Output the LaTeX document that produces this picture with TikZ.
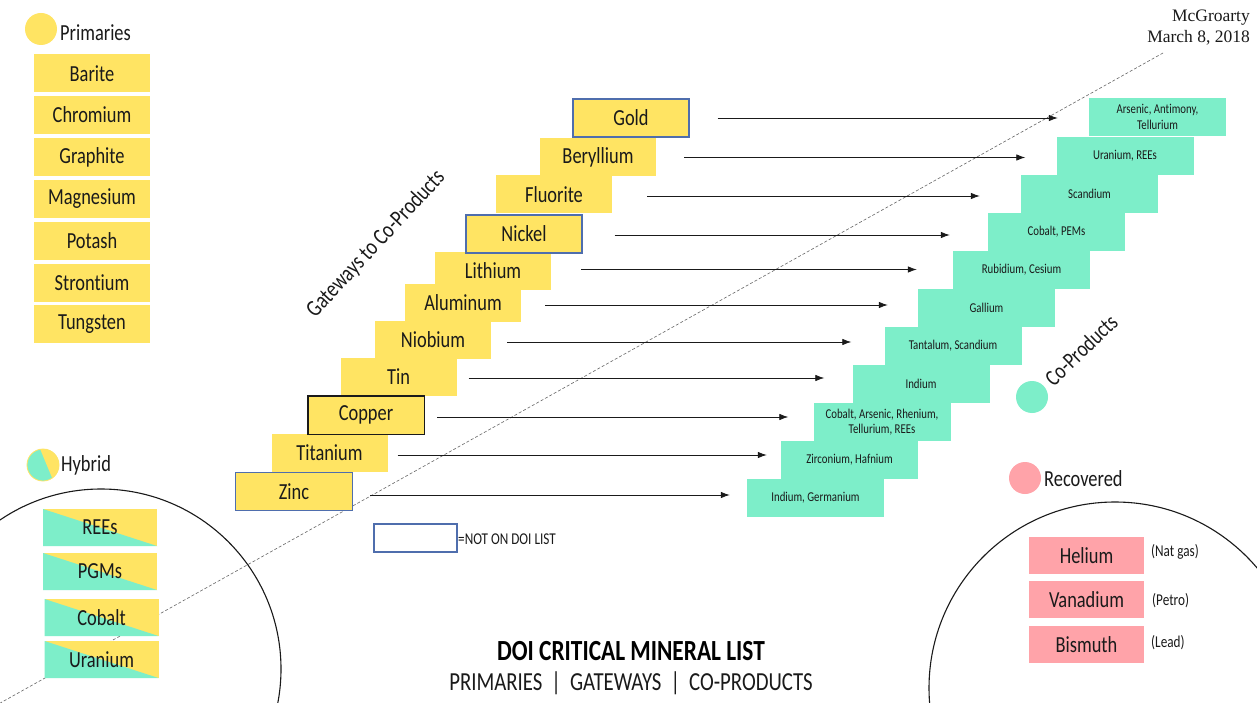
\documentclass[tikz,border=0pt]{standalone}
\usepackage{fontspec}
\setmainfont[FakeStretch=0.8, Ligatures={TeX,NoCommon}]{Carlito}
\newfontfamily\timesf{Liberation Serif}
\usetikzlibrary{arrows.meta}
\definecolor{yel}{HTML}{FFE463}
\definecolor{tealc}{HTML}{7DEEC9}
\definecolor{pinkc}{HTML}{FFA3A9}
\definecolor{blueb}{HTML}{4F6EAD}
\definecolor{ink}{HTML}{1A1A1A}
\tikzset{
  big/.style={font=\fontsize{23}{25}\selectfont},
  ybox/.style={big, fill=yel, minimum width=116pt, minimum height=38pt, inner sep=0pt, text=ink},
  nb/.style={draw=blueb, line width=1.1pt},
  cb/.style={draw=ink, line width=1.4pt},
  tbox/.style={fill=tealc, minimum width=137pt, minimum height=38pt, inner sep=0pt, text=ink,
    font=\fontsize{13.5}{15.5}\selectfont, align=center},
  pbox/.style={big, fill=pinkc, minimum width=115pt, minimum height=37pt, inner sep=0pt, text=ink},
  hbox/.style={big, fill=yel, minimum width=114pt, minimum height=37pt, inner sep=0pt, text=ink,
    path picture={\fill[tealc] (path picture bounding box.north west) -- (path picture bounding box.south east) -- (path picture bounding box.south west) -- cycle;}},
  arr/.style={-{Latex[length=9pt,width=6.5pt]}, line width=0.8pt, draw=ink},
  lbl/.style={big, text=ink, inner sep=0pt},
  note/.style={font=\fontsize{16.5}{18}\selectfont, text=ink, inner sep=0pt},
  dot/.style={circle, minimum size=32pt, inner sep=0pt},
  guide/.style={densely dashed, draw=gray!80!black, line width=0.6pt},
  ring/.style={draw=ink, line width=1.1pt},
}
\begin{document}
\begin{tikzpicture}[x=1pt,y=-1pt]
\useasboundingbox (0,0) rectangle (1257,703);
\fill[white] (0,0) rectangle (1257,703);
% dashed guide line
\coordinate (dTop) at (1163,53);
\coordinate (dBot) at (-6,706.5);
\draw[guide] (dTop) -- (dBot);
% rings
\begin{scope}
\clip (0,0) rectangle (1257,703);
\draw[ring] (101,669) circle (180);
\draw[ring] (1115,688) circle (186);
\end{scope}

% Primaries
\node[dot, fill=yel] (pdot) at (41,29) {};
\node[lbl, anchor=west] (plab) at (60,33) {Primaries};
\node[ybox] (p1) at (92,73.5) {Barite};
\node[ybox] (p2) at (92,115) {Chromium};
\node[ybox] (p3) at (92,157) {Graphite};
\node[ybox] (p4) at (92,199) {Magnesium};
\node[ybox] (p5) at (92,241) {Potash};
\node[ybox] (p6) at (92,283) {Strontium};
\node[ybox] (p7) at (92,324) {Tungsten};

% Hybrid
\node[dot, fill=tealc, draw=yel, line width=0.8pt,
  path picture={\fill[yel] ([shift={(-2.8pt,15.8pt)}]path picture bounding box.center) -- ([shift={(9.2pt,-13.1pt)}]path picture bounding box.center) -- ([shift={(20pt,-20pt)}]path picture bounding box.center) -- ([shift={(20pt,20pt)}]path picture bounding box.center) -- cycle;}] (hdot) at (43,465) {};
\node[lbl, anchor=west] (hlab) at (61,465) {Hybrid};
\node[hbox] (h1) at (100,527.5) {REEs};
\node[hbox] (h2) at (100,571.5) {PGMs};
\node[hbox] (h3) at (101.5,617.5) {Cobalt};
\node[hbox] (h4) at (101.5,659.5) {Uranium};

% Gateways
\node[lbl, rotate=47, font=\fontsize{23.5}{25}\selectfont] (gwlab) at (376,244) {Gateways to Co-Products};
\node[ybox] (zinc) at (294,491.5) {Zinc};
\node[ybox] (titan) at (329.5,453) {Titanium};
\node[ybox] (copper) at (366,415) {Copper};
\node[ybox] (tin) at (398.5,376.5) {Tin};
\node[ybox] (niob) at (433,340) {Niobium};
\node[ybox] (alum) at (463,302.5) {Aluminum};
\node[ybox] (lith) at (493,270.5) {Lithium};
\node[ybox] (fluor) at (554,194.5) {Fluorite};
\node[ybox] (beryl) at (598,157) {Beryllium};
\node[ybox, nb] (nickel) at (524,234) {Nickel};
\node[ybox, nb] (gold) at (631,118) {Gold};
\draw[nb] (zinc.south west) rectangle (zinc.north east);
\draw[cb] (copper.south west) rectangle (copper.north east);

% Co-products
\node[tbox] (co1) at (1157.5,117) {Arsenic, Antimony,\\Tellurium};
\node[tbox] (co2) at (1125,156) {Uranium, REEs};
\node[tbox] (co3) at (1089.5,194) {Scandium};
\node[tbox] (co4) at (1056.5,232) {Cobalt, PEMs};
\node[tbox] (co5) at (1021.5,270) {Rubidium, Cesium};
\node[tbox] (co6) at (986.5,308) {Gallium};
\node[tbox] (co7) at (953,346) {Tantalum, Scandium};
\node[tbox] (co8) at (921,384) {Indium};
\node[tbox] (co9) at (882,422) {Cobalt, Arsenic, Rhenium,\\Tellurium, REEs};
\node[tbox] (co10) at (849.5,460) {Zirconium, Hafnium};
\node[tbox] (co11) at (815.5,497.5) {Indium, Germanium};
\node[dot, fill=tealc] (cdot) at (1032,397) {};
\node[lbl, rotate=44] (clab) at (1081,350) {Co-Products};

% arrows
\coordinate (a1) at (gold.east);
\coordinate (a2) at ([yshift=-0.5pt]beryl.east);
\coordinate (a3) at ([yshift=-1.5pt]fluor.east);
\coordinate (a4) at ([yshift=-1pt]nickel.east);
\coordinate (a5) at ([yshift=1pt]lith.east);
\coordinate (a6) at ([yshift=-2.5pt]alum.east);
\coordinate (a7) at ([yshift=-2pt]niob.east);
\coordinate (a8) at ([yshift=-1.5pt]tin.east);
\coordinate (a9) at ([yshift=-2pt]copper.east);
\coordinate (a10) at ([yshift=-2pt]titan.east);
\coordinate (a11) at ([yshift=-3.5pt]zinc.east);
\draw[arr, shorten <=28pt, shorten >=31pt] (a1) -- (a1 -| co1.west);
\draw[arr, shorten <=28pt, shorten >=31pt] (a2) -- (a2 -| co2.west);
\draw[arr, shorten <=35pt, shorten >=41pt] (a3) -- (a3 -| co3.west);
\draw[arr, shorten <=32pt, shorten >=38pt] (a4) -- (a4 -| co4.west);
\draw[arr, shorten <=30pt, shorten >=36pt] (a5) -- (a5 -| co5.west);
\draw[arr, shorten <=24pt, shorten >=30pt] (a6) -- (a6 -| co6.west);
\draw[arr, shorten <=16pt, shorten >=33pt] (a7) -- (a7 -| co7.west);
\draw[arr, shorten <=12pt, shorten >=28pt] (a8) -- (a8 -| co8.west);
\draw[arr, shorten <=13pt, shorten >=25pt] (a9) -- (a9 -| co9.west);
\draw[arr, shorten <=10pt, shorten >=14pt] (a10) -- (a10 -| co10.west);
\draw[arr, shorten <=18pt, shorten >=17pt] (a11) -- (a11 -| co11.west);

% Recovered
\node[dot, fill=pinkc] (rdot) at (1025,478) {};
\node[lbl, anchor=west] (rlab) at (1044,479) {Recovered};
\node[pbox] (r1) at (1086.5,555.5) {Helium};
\node[pbox] (r2) at (1086.5,599.5) {Vanadium};
\node[pbox] (r3) at (1086.5,644.5) {Bismuth};
\node[note, anchor=west] (n1) at (1151,552) {(Nat gas)};
\node[note, anchor=west] (n2) at (1152,601) {(Petro)};
\node[note, anchor=west] (n3) at (1151,643) {(Lead)};

% legend
\node[draw=blueb, line width=1.1pt, minimum width=83pt, minimum height=28pt, inner sep=0pt] (leg) at (415.5,538) {};
\node[note, anchor=west] (legt) at (458,539.5) {=NOT ON DOI LIST};

% title
\node[font=\fontsize{29.2}{31}\bfseries\selectfont, text=black, inner sep=0pt] (title) at (631,651) {DOI CRITICAL MINERAL LIST};
\node[font=\fontsize{26}{28}\selectfont, text=ink, inner sep=0pt] (sub) at (631,683) {PRIMARIES \,|\, GATEWAYS \,|\, CO-PRODUCTS};

% author
\node[font=\timesf\fontsize{17.5}{20}\selectfont, anchor=base east, inner sep=0pt, text=ink] (auth) at (1250,22) {McGroarty};
\node[font=\timesf\fontsize{17.5}{20}\selectfont, anchor=base east, inner sep=0pt, text=ink] (date) at (1250,43) {March 8, 2018};
\end{tikzpicture}
\end{document}
